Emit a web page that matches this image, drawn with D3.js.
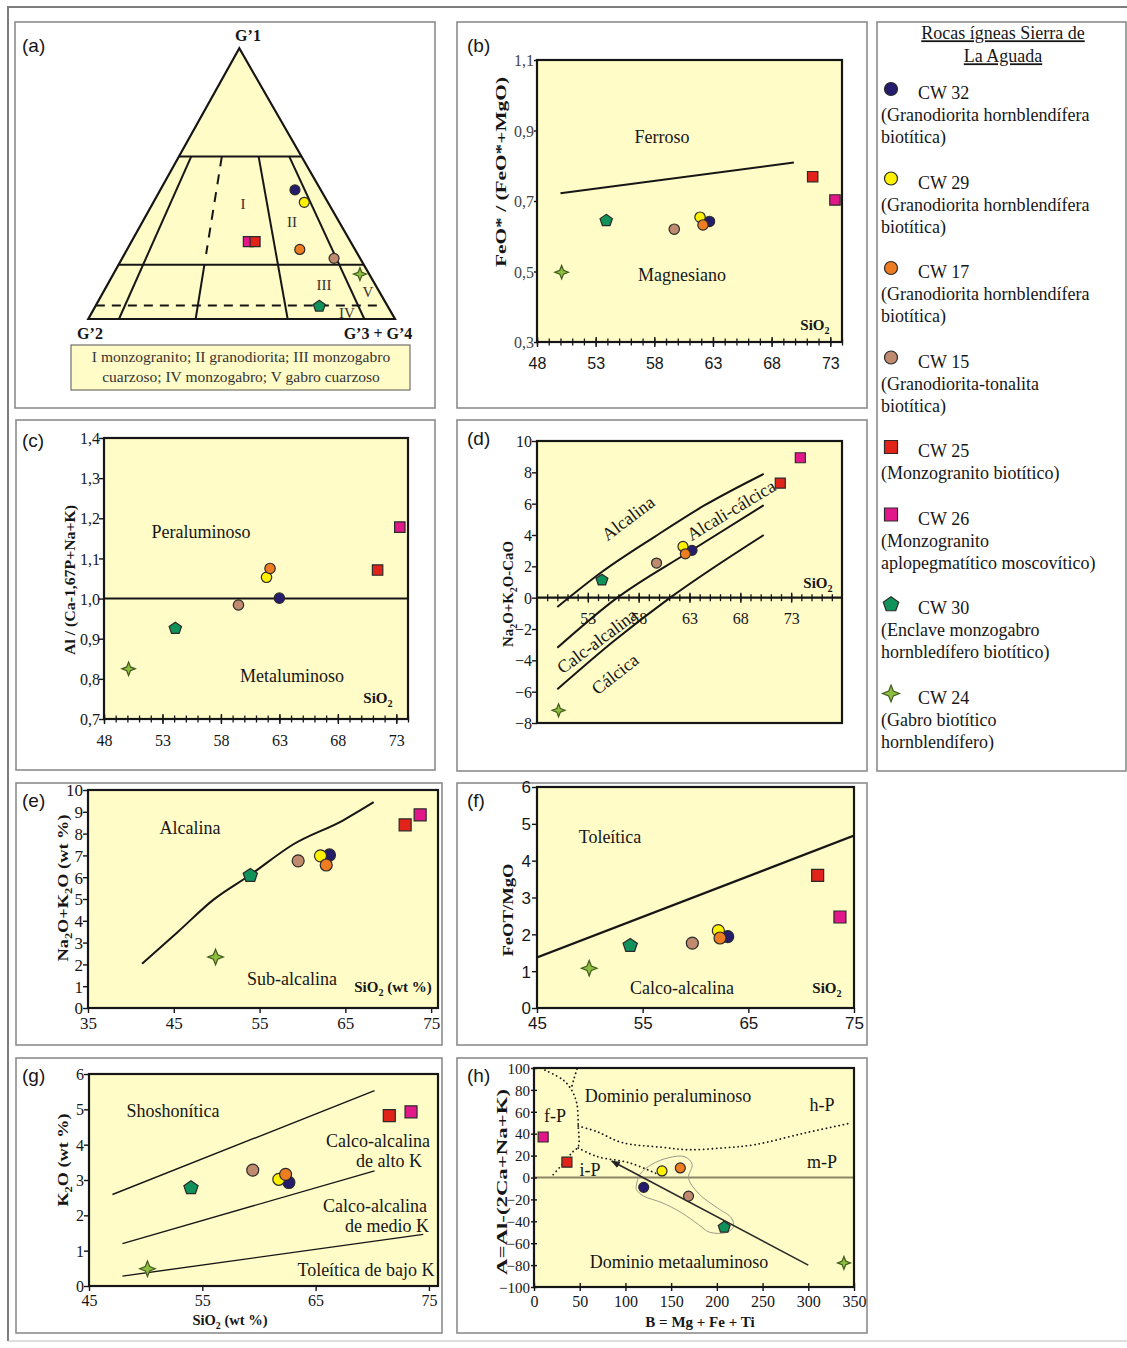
<!DOCTYPE html>
<html><head><meta charset="utf-8">
<script src="https://cdn.jsdelivr.net/npm/d3@7"></script>
<style>body{margin:0;background:#fff;}svg{display:block;}</style>
</head><body>
<svg id="fig" width="1127" height="1348"></svg>
<script>
// ---------------- Samples (legend order) ----------------
const samples = ["CW 32", "CW 29", "CW 17", "CW 15", "CW 25", "CW 26", "CW 30", "CW 24"];
const sampleNotes = [
  ["(Granodiorita hornblendífera", "biotítica)"],
  ["(Granodiorita hornblendífera", "biotítica)"],
  ["(Granodiorita hornblendífera", "biotítica)"],
  ["(Granodiorita-tonalita", "biotítica)"],
  ["(Monzogranito biotítico)"],
  ["(Monzogranito", "aplopegmatítico moscovítico)"],
  ["(Enclave monzogabro", "hornbledífero biotítico)"],
  ["(Gabro biotítico", "hornblendífero)"]
];
const legendTitle = ["Rocas ígneas Sierra de", "La Aguada"];

// ---------------- (a) ternary G'1 - G'2 - G'3+G'4 ----------------
const ternG1  = [0.477, 0.431, 0.257, 0.224, 0.286, 0.286, 0.049, 0.166];
const ternG2  = [0.084, 0.077, 0.180, 0.085, 0.311, 0.333, 0.222, 0.030];
const ternG34 = [0.439, 0.492, 0.563, 0.691, 0.403, 0.381, 0.729, 0.804];
const ternLevels = [0.6, 0.2];          // G'1 field limits
const ternDashedLevel = 0.05;           // monzogabro limit
const ternRays = [0.1, 0.35, 0.65, 0.9];// G'3+G'4 share of the base
const ternFieldNames = "I monzogranito;  II granodiorita;  III monzogabro|cuarzoso; IV monzogabro; V gabro cuarzoso";

// ---------------- (b) FeO*/(FeO*+MgO) vs SiO2 ----------------
const sio2B = [62.7, 61.9, 62.15, 59.7, 71.5, 73.4, 53.9, 50.1];
const feoRatioB = [0.642, 0.654, 0.632, 0.620, 0.769, 0.703, 0.646, 0.498];
const ferroanLineB = [[50, 0.722], [69.9, 0.809]];
const ticksBx = [48, 53, 58, 63, 68, 73];
const ticksBy = [0.3, 0.5, 0.7, 0.9, 1.1];

// ---------------- (c) ASI vs SiO2 ----------------
const sio2C = [63.0, 61.9, 62.2, 59.5, 71.4, 73.3, 54.1, 50.1];
const asiC = [1.001, 1.053, 1.075, 0.984, 1.071, 1.178, 0.927, 0.825];
const asiLimitC = [[48, 1.0], [74, 1.0]];
const ticksCx = [48, 53, 58, 63, 68, 73];
const ticksCy = [0.7, 0.8, 0.9, 1.0, 1.1, 1.2, 1.3, 1.4];

// ---------------- (d) MALI vs SiO2 ----------------
const sio2D = [63.25, 62.36, 62.59, 59.76, 71.93, 73.9, 54.39, 50.12];
const maliD = [3.02, 3.27, 2.80, 2.21, 7.31, 8.93, 1.15, -7.19];
const alkalicLineD = [[50, -0.6], [54.4, 1.65], [59.6, 3.9], [64.5, 5.9], [70.3, 7.9]];
const alkCalcLineD = [[50, -3.2], [55.9, 0], [62.9, 2.9], [70.3, 5.9]];
const calcAlkLineD = [[50, -5.85], [55.5, -2.8], [61.1, 0], [70.3, 4.0]];
const ticksDx = [53, 58, 63, 68, 73];
const ticksDy = [-8, -6, -4, -2, 0, 2, 4, 6, 8, 10];

// ---------------- (e) TAS ----------------
const sio2E = [63.15, 62.1, 62.77, 59.5, 71.97, 73.72, 53.92, 49.87];
const alkE = [7.02, 6.98, 6.56, 6.75, 8.40, 8.86, 6.10, 2.34];
const alkLineE = [[41.3, 2.03], [45.5, 3.5], [49.6, 4.96], [53.9, 6.1], [58.9, 7.5], [64.7, 8.6], [68.3, 9.44]];
const ticksEx = [35, 45, 55, 65, 75];
const ticksEy = [0, 1, 2, 3, 4, 5, 6, 7, 8, 9, 10];

// ---------------- (f) FeOT/MgO vs SiO2 ----------------
const sio2F = [63.05, 62.16, 62.32, 59.7, 71.56, 73.67, 53.82, 49.94];
const feoMgoF = [1.94, 2.10, 1.90, 1.76, 3.60, 2.47, 1.71, 1.08];
const thLineF = [[45, 1.37], [75, 4.68]];
const ticksFx = [45, 55, 65, 75];
const ticksFy = [0, 1, 2, 3, 4, 5, 6];

// ---------------- (g) K2O vs SiO2 ----------------
const sio2G = [62.64, 61.75, 62.35, 59.45, 71.5, 73.42, 54.0, 50.16];
const k2oG = [2.93, 3.02, 3.16, 3.28, 4.82, 4.93, 2.79, 0.49];
const shoLineG = [[47.07, 2.59], [70.2, 5.53]];
const highKLineG = [[47.95, 1.2], [70.2, 3.26]];
const lowKLineG = [[47.95, 0.28], [74.5, 1.46]];
const ticksGx = [45, 55, 65, 75];
const ticksGy = [0, 1, 2, 3, 4, 5, 6];

// ---------------- (h) A-B diagram ----------------
const bH = [120, 140, 160, 169, 36, 10, 208, 339];
const aH = [-9, 6, 8.7, -17, 14, 37, -45, -78];
const fpLineH = [[12, 98], [32, 89], [41, 80], [46.7, 68], [48.4, 47], [48.4, 28], [43, 24], [32, 13], [21, 2.6]];
const fpBranchH = [[47, 99], [44, 91], [41, 82]];
const hpLineH = [[48.4, 47], [68.5, 42], [96, 32], [141, 27.5], [169, 25.4], [207, 27], [241.5, 30], [296, 40.6], [347, 49.8]];
const ipLineH = [[48.4, 27], [68.5, 19.3], [105, 13.2], [134, 3.5]];
const trendH = [[300, -80], [85, 15]];
const groupOutlineH = [[112, -7], [116, 3], [129, 12], [147, 18], [165, 19], [173, 12], [169, 1], [171, -5], [183, -17],
  [201, -28], [216, -37], [218, -45], [211, -50], [192, -50], [180, -43], [161, -32], [140, -23], [120, -17], [112, -11]];
const ticksHx = [0, 50, 100, 150, 200, 250, 300, 350];
const ticksHy = [-100, -80, -60, -40, -20, 0, 20, 40, 60, 80, 100];

// ---------------- Styles ----------------
const SERIF = "'Liberation Serif','Times New Roman',serif";
const SANS = "'Liberation Sans',Arial,sans-serif";
const PANEL_FILL = "#FFFCC8";
const INK = "#161616";
const sampleFill = ["#251C6E", "#FFF100", "#EE7D22", "#BF8A6E", "#E2231A", "#E2188A", "#10935A", "#8DBE3F"];
const sampleShape = ["circle", "circle", "circle", "circle", "square", "square", "pentagon", "star"];
const drawOrder = [0, 1, 2, 3, 5, 4, 6, 7];

const svg = d3.select("#fig");
const defs = svg.append("defs");
defs.append("marker").attr("id", "arrowHead").attr("viewBox", "0 -5 10 10")
  .attr("refX", 9).attr("refY", 0).attr("markerWidth", 9).attr("markerHeight", 9)
  .attr("markerUnits", "userSpaceOnUse").attr("orient", "auto")
  .append("path").attr("d", "M0,-4L10,0L0,4Z").attr("fill", "#222");

function markerPath(shape, r) {
  const p = d3.path();
  if (shape === "circle") { p.moveTo(r, 0); p.arc(0, 0, r, 0, 2 * Math.PI); }
  else if (shape === "square") { p.rect(-r, -r, 2 * r, 2 * r); }
  else if (shape === "pentagon") {
    const R = r * 1.25;
    for (let i = 0; i < 5; i++) {
      const a = -Math.PI / 2 + i * 2 * Math.PI / 5;
      const px = R * Math.cos(a), py = R * Math.sin(a) * 0.95 + 0.5;
      i ? p.lineTo(px, py) : p.moveTo(px, py);
    }
  } else {
    const R = r * 1.3, w = R * 0.28;
    const pts = [[0, -R], [w, -w], [R, 0], [w, w], [0, R], [-w, w], [-R, 0], [-w, -w]];
    pts.forEach((q, i) => i ? p.lineTo(q[0], q[1]) : p.moveTo(q[0], q[1]));
  }
  p.closePath();
  return p.toString();
}

function drawMarker(g, i, px, py, r) {
  g.append("path").attr("d", markerPath(sampleShape[i], r))
    .attr("transform", `translate(${px},${py})`)
    .attr("fill", sampleFill[i])
    .attr("stroke", sampleShape[i] === "star" ? "#3f5a1e" : "#2a2a2a")
    .attr("stroke-width", 1.2);
}

// text with _{..} subscripts
function addText(g, x, y, str, o = {}) {
  const size = o.size || 18;
  const t = g.append("text").attr("x", x).attr("y", y)
    .attr("dy", o.dy !== undefined ? o.dy : "0.35em")
    .attr("text-anchor", o.anchor || "middle")
    .attr("font-family", o.family || SERIF)
    .attr("font-size", size)
    .attr("font-weight", o.weight || "normal")
    .attr("fill", o.fill || INK);
  if (o.rotate) t.attr("transform", `rotate(${o.rotate},${x},${y})`);
  if (o.decoration) t.attr("text-decoration", o.decoration);
  const parts = str.split(/(_\{[^}]*\})/).filter(s => s.length);
  const shift = size * 0.28;
  let afterSub = false;
  parts.forEach(p => {
    if (p.startsWith("_{")) {
      t.append("tspan").attr("dy", shift).attr("font-size", size * 0.68).text(p.slice(2, -1));
      afterSub = true;
    } else {
      const ts = t.append("tspan").text(p);
      if (afterSub) ts.attr("dy", -shift);
      afterSub = false;
    }
  });
  if (o.len) t.attr("textLength", o.len).attr("lengthAdjust", "spacingAndGlyphs");
  return t;
}

function panelBox(x0, y0, x1, y1) {
  svg.append("rect").attr("x", x0).attr("y", y0).attr("width", x1 - x0).attr("height", y1 - y0)
    .attr("fill", "#fff").attr("stroke", "#8c8c8c").attr("stroke-width", 1.6);
}

function panelTag(x, y, s) {
  svg.append("text").attr("x", x).attr("y", y).attr("font-family", SANS)
    .attr("font-size", 19).attr("fill", INK).text(s);
}

// generic x-y diagram
function xyPanel(cfg) {
  const g = svg.append("g");
  const x = d3.scaleLinear().domain(cfg.xd).range([cfg.l, cfg.r]);
  const y = d3.scaleLinear().domain(cfg.yd).range([cfg.b, cfg.t]);
  g.append("rect").attr("x", cfg.l).attr("y", cfg.t).attr("width", cfg.r - cfg.l)
    .attr("height", cfg.b - cfg.t).attr("fill", PANEL_FILL);
  defs.append("clipPath").attr("id", "clip-" + cfg.id).append("rect")
    .attr("x", cfg.l).attr("y", cfg.t).attr("width", cfg.r - cfg.l).attr("height", cfg.b - cfg.t);
  const plot = g.append("g").attr("clip-path", `url(#clip-${cfg.id})`);
  const marks = g.append("g");
  const axes = g.append("g");

  // frame
  axes.append("rect").attr("x", cfg.l).attr("y", cfg.t).attr("width", cfg.r - cfg.l)
    .attr("height", cfg.b - cfg.t).attr("fill", "none").attr("stroke", INK).attr("stroke-width", 2.2);

  const yFmt = cfg.comma ? (d => d3.format(".1f")(d).replace(".", ",")) : d3.format("d");
  const xFmt = d3.format("d");
  const fam = cfg.tickFamily || SERIF;
  const xFam = cfg.xTickFamily || fam;

  // y axis
  const ya = axes.append("g").attr("transform", `translate(${cfg.l},0)`)
    .call(d3.axisLeft(y).tickValues(cfg.yTicks).tickFormat(yFmt).tickSizeOuter(0).tickSizeInner(cfg.yTick || 5));
  ya.select(".domain").remove();
  ya.attr("font-family", fam).attr("font-size", cfg.yTickSize || cfg.tickSize || 16);
  ya.selectAll("line").attr("stroke", INK).attr("stroke-width", 1.4)
    .attr("x1", cfg.yCross ? (cfg.yTick || 5) : 0);
  ya.selectAll("text").attr("x", -(cfg.yLabelGap || 4)).attr("dy", "0.35em").attr("fill", cfg.yLabelFill || INK);

  // x axis
  const axisY = cfg.xAxisAt !== undefined ? y(cfg.xAxisAt) : cfg.b;
  if (cfg.xAxisAt !== undefined) {
    axes.append("line").attr("x1", cfg.l).attr("x2", cfg.r).attr("y1", axisY).attr("y2", axisY)
      .attr("stroke", INK).attr("stroke-width", 2.2);
  }
  if (cfg.xMinor) {
    const xm = axes.append("g").attr("transform", `translate(0,${axisY})`)
      .call(d3.axisBottom(x).tickValues(cfg.xMinor).tickFormat("").tickSizeOuter(0).tickSizeInner(3.5));
    xm.select(".domain").remove();
    xm.selectAll("line").attr("stroke", INK).attr("stroke-width", 1.3).attr("y1", -3.5);
  }
  const xa = axes.append("g").attr("transform", `translate(0,${axisY})`)
    .call(d3.axisBottom(x).tickValues(cfg.xTicks).tickFormat(xFmt).tickSizeOuter(0).tickSizeInner(cfg.xTick || 5));
  xa.select(".domain").remove();
  xa.attr("font-family", xFam).attr("font-size", cfg.xTickSize || cfg.tickSize || 16);
  xa.selectAll("line").attr("stroke", INK).attr("stroke-width", 1.4)
    .attr("y1", cfg.xCross ? -(cfg.xTick || 5) : 0);
  xa.selectAll("text").attr("y", cfg.xLabelGap || 20).attr("dy", "0.35em").attr("fill", INK);

  return { g, plot, marks, axes, x, y };
}

function drawLine(plot, x, y, pts, o = {}) {
  const line = d3.line().x(d => x(d[0])).y(d => y(d[1])).curve(o.curve || d3.curveLinear);
  return plot.append("path").attr("d", line(pts)).attr("fill", "none")
    .attr("stroke", o.stroke || INK).attr("stroke-width", o.width || 2)
    .attr("stroke-dasharray", o.dash || null).attr("stroke-linecap", o.cap || "butt");
}

function drawSamples(P, xs, ys, r) {
  drawOrder.forEach(i => drawMarker(P.marks, i, P.x(xs[i]), P.y(ys[i]), r));
}

// ---------------- figure frame ----------------
svg.append("path").attr("d", "M8,1341V7H1127").attr("fill", "none").attr("stroke", "#7d7d7d").attr("stroke-width", 2);
svg.append("line").attr("x1", 8).attr("x2", 1127).attr("y1", 1341).attr("y2", 1341).attr("stroke", "#bdbdbd").attr("stroke-width", 1);

// ---------------- (a) ----------------
panelBox(15, 22, 435, 408);
panelTag(22, 52, "(a)");
{
  const V = { g1: [239.3, 48.3], g2: [88.3, 319], g34: [395, 319] };
  const tern = (a, b, c) => {
    const s = a + b + c;
    return [(a * V.g1[0] + b * V.g2[0] + c * V.g34[0]) / s, (a * V.g1[1] + b * V.g2[1] + c * V.g34[1]) / s];
  };
  const ga = svg.append("g");
  const tri = [tern(1, 0, 0), tern(0, 1, 0), tern(0, 0, 1)];
  ga.append("path").attr("d", "M" + tri.join("L") + "Z").attr("fill", PANEL_FILL);
  const seg = (p, q, dash) => ga.append("line").attr("x1", p[0]).attr("y1", p[1]).attr("x2", q[0]).attr("y2", q[1])
    .attr("stroke", INK).attr("stroke-width", 2).attr("stroke-dasharray", dash || null);
  ternLevels.forEach(lv => seg(tern(lv, 1 - lv, 0), tern(lv, 0, 1 - lv)));
  seg(tern(ternDashedLevel, 1 - ternDashedLevel, 0),
      tern(ternDashedLevel, (1 - ternDashedLevel) * 0.03, (1 - ternDashedLevel) * 0.97), "9,7");
  const ray = (f, g) => tern(g, (1 - g) * (1 - f), (1 - g) * f);
  ternRays.forEach((f, k) => {
    if (k === 1) {
      seg(ray(f, ternLevels[0]), ray(f, 0.24), "10,8");
      seg(ray(f, ternLevels[1]), ray(f, 0));
    } else {
      seg(ray(f, ternLevels[0]), ray(f, 0));
    }
  });
  ga.append("path").attr("d", "M" + tri.join("L") + "Z").attr("fill", "none")
    .attr("stroke", INK).attr("stroke-width", 2.2).attr("stroke-linejoin", "miter");

  [["I", 243, 204], ["II", 292, 222], ["III", 324, 285], ["IV", 347, 313], ["V", 368, 292]]
    .forEach(d => addText(ga, d[1], d[2], d[0], { size: 15, fill: "#333" }));
  addText(ga, 248, 35, "G’1", { size: 16, weight: "bold" });
  addText(ga, 90, 333, "G’2", { size: 16, weight: "bold" });
  addText(ga, 378, 333, "G’3 + G’4", { size: 16, weight: "bold" });

  drawOrder.forEach(i => {
    const p = tern(ternG1[i], ternG2[i], ternG34[i]);
    drawMarker(ga, i, p[0], p[1], 5);
  });

  ga.append("rect").attr("x", 71).attr("y", 345).attr("width", 339).attr("height", 45)
    .attr("fill", PANEL_FILL).attr("stroke", "#555").attr("stroke-width", 1);
  ternFieldNames.split("|").forEach((s, k) => addText(ga, 241, 357 + k * 19.5, s, { size: 15.5, fill: "#333" }));
}

// ---------------- (b) ----------------
panelBox(457, 22, 867, 408);
panelTag(467, 52, "(b)");
{
  const P = xyPanel({ id: "b", l: 537, r: 842, t: 60, b: 342, xd: [48, 74], yd: [0.3, 1.1],
    yTicks: ticksBy, xTicks: ticksBx, xMinor: d3.range(48, 75), comma: true,
    yTick: 3, yLabelGap: 3, yLabelFill: "#444", xTick: 5, xCross: true, xLabelGap: 21,
    xTickFamily: SANS, tickSize: 16 });
  drawLine(P.plot, P.x, P.y, ferroanLineB, { width: 2 });
  addText(P.marks, 662, 137, "Ferroso");
  addText(P.marks, 682, 275, "Magnesiano");
  addText(P.marks, 815, 325, "SiO_{2}", { size: 15, weight: "bold" });
  drawSamples(P, sio2B, feoRatioB, 5.2);
  addText(svg, 501, 172, "FeO* / (FeO*+MgO)", { size: 15, weight: "bold", rotate: -90, len: 190 });
}

// ---------------- (c) ----------------
panelBox(16, 420, 435, 770);
panelTag(22, 447, "(c)");
{
  const P = xyPanel({ id: "c", l: 104, r: 408, t: 438, b: 719, xd: [48, 74], yd: [0.7, 1.4],
    yTicks: ticksCy, xTicks: ticksCx, xMinor: d3.range(48, 75), comma: true,
    yTick: 5, yLabelGap: 4, xTick: 5, xCross: true, xLabelGap: 21, tickSize: 16 });
  drawLine(P.plot, P.x, P.y, asiLimitC, { width: 2 });
  addText(P.marks, 201, 532, "Peraluminoso");
  addText(P.marks, 292, 676, "Metaluminoso");
  addText(P.marks, 378, 698, "SiO_{2}", { size: 15, weight: "bold" });
  drawSamples(P, sio2C, asiC, 5.2);
  addText(svg, 70, 580, "Al / (Ca-1,67P+Na+K)", { size: 15, weight: "bold", rotate: -90, len: 150 });
}

// ---------------- (d) ----------------
panelBox(457, 420, 867, 771);
panelTag(467, 445, "(d)");
{
  const P = xyPanel({ id: "d", l: 537, r: 842, t: 441, b: 723, xd: [48, 78], yd: [-8, 10],
    yTicks: ticksDy, xTicks: ticksDx, xMinor: d3.range(49, 78), xAxisAt: 0,
    yTick: 5, yLabelGap: 5, xTick: 5, xCross: true, xLabelGap: 21, tickSize: 16 });
  const c = d3.curveMonotoneX;
  drawLine(P.plot, P.x, P.y, alkalicLineD, { width: 2, curve: c });
  drawLine(P.plot, P.x, P.y, alkCalcLineD, { width: 2, curve: c });
  drawLine(P.plot, P.x, P.y, calcAlkLineD, { width: 2, curve: c });
  addText(P.marks, 628, 518, "Alcalina", { rotate: -37 });
  addText(P.marks, 731, 510, "Alcali-cálcica", { rotate: -31 });
  addText(P.marks, 597, 641, "Calc-alcalina", { rotate: -37 });
  addText(P.marks, 615, 674, "Cálcica", { rotate: -38 });
  addText(P.marks, 818, 583, "SiO_{2}", { size: 15, weight: "bold" });
  drawSamples(P, sio2D, maliD, 5);
  addText(svg, 508, 594, "Na_{2}O+K_{2}O-CaO", { size: 15, weight: "bold", rotate: -90, len: 106 });
}

// ---------------- (e) ----------------
panelBox(16, 783, 442, 1045);
panelTag(22, 807, "(e)");
{
  const P = xyPanel({ id: "e", l: 88, r: 438, t: 790, b: 1008, xd: [35, 75.8], yd: [0, 10],
    yTicks: ticksEy, xTicks: ticksEx, yTick: 5, yLabelGap: 5, xTick: 5, xLabelGap: 15, tickSize: 17 });
  drawLine(P.plot, P.x, P.y, alkLineE, { width: 2, curve: d3.curveMonotoneX });
  addText(P.marks, 190, 828, "Alcalina");
  addText(P.marks, 292, 979, "Sub-alcalina");
  addText(P.marks, 393, 987, "SiO_{2} (wt %)", { size: 15, weight: "bold" });
  drawSamples(P, sio2E, alkE, 6);
  addText(svg, 63, 888, "Na_{2}O+K_{2}O (wt %)", { size: 15, weight: "bold", rotate: -90, len: 147 });
}

// ---------------- (f) ----------------
panelBox(457, 783, 867, 1045);
panelTag(467, 807, "(f)");
{
  const P = xyPanel({ id: "f", l: 537, r: 854, t: 787, b: 1008, xd: [45, 75], yd: [0, 6],
    yTicks: ticksFy, xTicks: ticksFx, yTick: 5, yLabelGap: 6, xTick: 5, xLabelGap: 15,
    tickFamily: SANS, tickSize: 17 });
  drawLine(P.plot, P.x, P.y, thLineF, { width: 2.2 });
  addText(P.marks, 610, 837, "Toleítica");
  addText(P.marks, 682, 988, "Calco-alcalina");
  addText(P.marks, 827, 988, "SiO_{2}", { size: 15, weight: "bold" });
  drawSamples(P, sio2F, feoMgoF, 6);
  addText(svg, 508, 910, "FeOT/MgO", { size: 15, weight: "bold", rotate: -90, len: 93 });
}

// ---------------- (g) ----------------
panelBox(16, 1058, 442, 1333);
panelTag(22, 1082, "(g)");
{
  const P = xyPanel({ id: "g", l: 89, r: 438, t: 1074, b: 1286, xd: [45, 75.8], yd: [0, 6],
    yTicks: ticksGy, xTicks: ticksGx, yTick: 5, yLabelGap: 5, xTick: 5, xLabelGap: 14, tickSize: 16 });
  [shoLineG, highKLineG, lowKLineG].forEach(l => drawLine(P.plot, P.x, P.y, l, { width: 1.4 }));
  addText(P.marks, 173, 1111, "Shoshonítica");
  addText(P.marks, 378, 1141, "Calco-alcalina");
  addText(P.marks, 389, 1161, "de alto K");
  addText(P.marks, 375, 1206, "Calco-alcalina");
  addText(P.marks, 387, 1226, "de medio K");
  addText(P.marks, 366, 1270, "Toleítica de bajo K");
  drawSamples(P, sio2G, k2oG, 6);
  addText(svg, 230, 1320, "SiO_{2} (wt %)", { size: 14.5, weight: "bold" });
  addText(svg, 63, 1160, "K_{2}O (wt %)", { size: 15, weight: "bold", rotate: -90, len: 93 });
}

// ---------------- (h) ----------------
panelBox(457, 1058, 867, 1333);
panelTag(467, 1082, "(h)");
{
  const P = xyPanel({ id: "h", l: 534, r: 854, t: 1068, b: 1287, xd: [0, 350], yd: [-100, 100],
    yTicks: ticksHy, xTicks: ticksHx, yTick: 3, yCross: true, yLabelGap: 4, xTick: 4, xCross: true,
    xLabelGap: 14, tickSize: 15, xTickSize: 16 });
  drawLine(P.plot, P.x, P.y, [[0, 0], [350, 0]], { stroke: "#8d8566", width: 2 });
  const dotted = { width: 1.8, dash: "0.1,4.2", cap: "round", curve: d3.curveCatmullRom };
  drawLine(P.plot, P.x, P.y, fpLineH, dotted);
  drawLine(P.plot, P.x, P.y, fpBranchH, dotted);
  drawLine(P.plot, P.x, P.y, hpLineH, dotted);
  drawLine(P.plot, P.x, P.y, ipLineH, dotted);
  P.plot.append("path")
    .attr("d", d3.line().x(d => P.x(d[0])).y(d => P.y(d[1])).curve(d3.curveCatmullRomClosed)(groupOutlineH))
    .attr("fill", "none").attr("stroke", "#9a9a8a").attr("stroke-width", 1);
  drawLine(P.plot, P.x, P.y, trendH, { width: 1.6, stroke: "#2a2a2a" }).attr("marker-end", "url(#arrowHead)");
  addText(P.marks, 668, 1096, "Dominio peraluminoso");
  addText(P.marks, 822, 1105, "h-P");
  addText(P.marks, 555, 1116, "f-P");
  addText(P.marks, 822, 1162, "m-P");
  addText(P.marks, 590, 1170, "i-P");
  addText(P.marks, 679, 1262, "Dominio metaaluminoso");
  drawSamples(P, bH, aH, 5);
  addText(svg, 700, 1322, "B = Mg + Fe + Ti", { size: 15, weight: "bold" });
  addText(svg, 502, 1182, "A=Al-(2Ca+Na+K)", { size: 14, weight: "bold", rotate: -90, len: 186 });
}

// ---------------- legend ----------------
panelBox(877, 22, 1126, 771);
{
  const gl = svg.append("g");
  legendTitle.forEach((s, k) => addText(gl, 1003, 33 + k * 23, s, { size: 18, decoration: "underline" }));
  let yc = 93;
  samples.forEach((name, i) => {
    drawMarker(gl, i, 891, yc - 4, 6.5);
    addText(gl, 918, yc, name, { size: 18, anchor: "start" });
    sampleNotes[i].forEach((s, k) => addText(gl, 881, yc + 22 * (k + 1), s, { size: 18, anchor: "start" }));
    yc += 22 * (sampleNotes[i].length + 1) + 23.5;
  });
}
</script>
</body></html>
